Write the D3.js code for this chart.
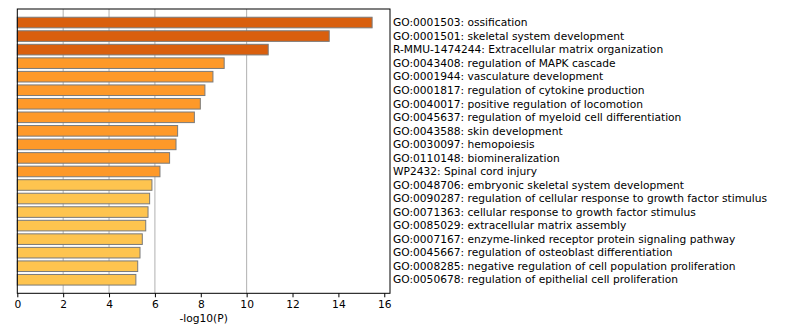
<!DOCTYPE html>
<html>
<head>
<meta charset="utf-8">
<script src="https://cdn.jsdelivr.net/npm/d3@7"></script>
<style>
body { margin: 0; background: #fff; }
text { font-family: "DejaVu Sans", sans-serif; }
</style>
</head>
<body>
<div class="viz"></div>
<script>
var w = 787;
var h = 328;

// termini e -log10(P), dall'alto in basso
var terms = ["GO:0001503: ossification", "GO:0001501: skeletal system development",
  "R-MMU-1474244: Extracellular matrix organization", "GO:0043408: regulation of MAPK cascade",
  "GO:0001944: vasculature development", "GO:0001817: regulation of cytokine production",
  "GO:0040017: positive regulation of locomotion", "GO:0045637: regulation of myeloid cell differentiation",
  "GO:0043588: skin development", "GO:0030097: hemopoiesis", "GO:0110148: biomineralization",
  "WP2432: Spinal cord injury", "GO:0048706: embryonic skeletal system development",
  "GO:0090287: regulation of cellular response to growth factor stimulus",
  "GO:0071363: cellular response to growth factor stimulus", "GO:0085029: extracellular matrix assembly",
  "GO:0007167: enzyme-linked receptor protein signaling pathway",
  "GO:0045667: regulation of osteoblast differentiation",
  "GO:0008285: negative regulation of cell population proliferation",
  "GO:0050678: regulation of epithelial cell proliferation"];
var logP = [15.47, 13.6, 10.94, 9.02, 8.53, 8.18, 7.98, 7.72, 6.99, 6.92,
  6.64, 6.22, 5.87, 5.77, 5.70, 5.60, 5.45, 5.35, 5.25, 5.17];
var group = [0, 0, 0, 1, 1, 1, 1, 1, 1, 1, 1, 1, 2, 2, 2, 2, 2, 2, 2, 2];
var groupColors = ["#d95f0e", "#fe9929", "#fec44f"];
var xTicks = [0, 2, 4, 6, 8, 10, 12, 14, 16];
var gridAt = [2, 4, 6, 10];

// attenzione: "top" e' gia' window.top
var padL = 17.3, padR = 390, padT = 9, padB = 293.3;
var fs = 10.67; // 8pt

var svg = d3.select('.viz')
            .append("svg")
            .attr("width", w)
            .attr("height", h);

var x = d3.scaleLinear().domain([0, 16.25]).range([padL, padR]);
var y = d3.scaleLinear().domain([-1, terms.length]).range([padT, padB]);
var barH = 10.6;

// linee verticali
svg.selectAll('.grid')
   .data(gridAt)
   .enter()
   .append('line')
   .attr('x1', function (d) {return x(d)})
   .attr('x2', function (d) {return x(d)})
   .attr('y1', padT)
   .attr('y2', padB)
   .attr('stroke', '#b0b0b0')
   .attr('stroke-width', 1);

svg.selectAll('.bar')
   .data(logP)
   .enter()
   .append('rect')
   .attr('x', x(0))
   .attr('y', function (d, i) {return y(i) - barH / 2})
   .attr('width', function (d) {return x(d) - x(0)})
   .attr('height', barH)
   .attr('fill', function (d, i) {return groupColors[group[i]]})
   .attr('stroke', '#7a7a7a')
   .attr('stroke-width', 1);

// cornice
svg.append('rect')
   .attr('x', padL)
   .attr('y', padT)
   .attr('width', padR - padL)
   .attr('height', padB - padT)
   .attr('fill', 'none')
   .attr('stroke', 'black')
   .attr('stroke-width', 1);

var xAxis = d3.axisBottom(x).tickValues(xTicks).tickSize(4).tickPadding(3);
var gx = svg.append('g')
   .attr('transform', 'translate(0,' + padB + ')')
   .call(xAxis);
gx.select('.domain').remove();
gx.selectAll('text').attr('font-size', fs).attr('fill', '#000').attr('font-family', '"DejaVu Sans", sans-serif');
gx.selectAll('line').attr('stroke', '#000');

svg.append('text')
   .text('-log10(P)')
   .attr('x', (padL + padR) / 2)
   .attr('y', 322)
   .attr('text-anchor', 'middle')
   .attr('font-size', fs);

svg.selectAll('.lab')
   .data(terms)
   .enter()
   .append('text')
   .text(function (d) {return d})
   .attr('x', 393)
   .attr('y', function (d, i) {return y(i)})
   .attr('dy', '0.35em')
   .attr('font-size', fs);
</script>
</body>
</html>
